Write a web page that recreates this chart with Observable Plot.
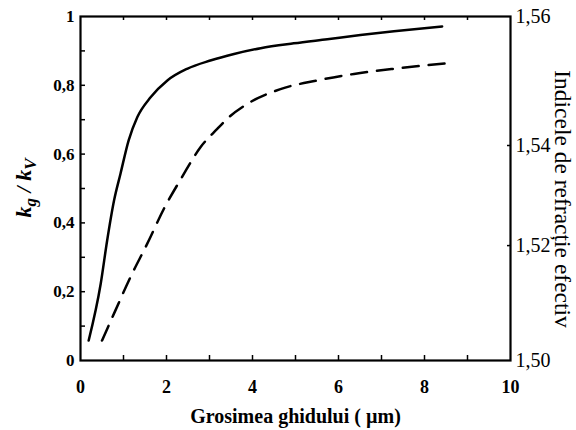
<!DOCTYPE html>
<html>
<head>
<meta charset="utf-8">
<script src="https://cdn.jsdelivr.net/npm/d3@7"></script>
<script src="https://cdn.jsdelivr.net/npm/@observablehq/plot@0.6"></script>
<style>
  html, body { margin: 0; padding: 0; background: #fff; }
  svg text { font-family: "Liberation Serif", "Times New Roman", Tinos, "DejaVu Serif", serif !important; }
</style>
</head>
<body>
<div id="chart"></div>
<script>
// Grosimea ghidului (µm) vs k_g/k_V — solid curve
const solidX = [0.19, 0.47, 0.62, 0.78, 0.93, 1.12, 1.32, 1.63, 2.02, 2.48, 3.02, 3.57, 4.19, 4.96, 5.74, 6.51, 7.29, 8.41];
const solidY = [0.058, 0.223, 0.349, 0.465, 0.543, 0.640, 0.707, 0.765, 0.814, 0.848, 0.872, 0.891, 0.908, 0.922, 0.934, 0.946, 0.957, 0.971];
// dashed curve (indicele de refracție efectiv)
const dashX = [0.50, 0.81, 1.16, 1.55, 1.94, 2.36, 2.79, 3.18, 3.45, 3.88, 4.65, 5.50, 6.36, 7.29, 8.53];
const dashY = [0.058, 0.145, 0.242, 0.339, 0.441, 0.533, 0.620, 0.673, 0.707, 0.746, 0.789, 0.814, 0.833, 0.848, 0.864];

const xTicks = [0, 2, 4, 6, 8, 10];
const xTickLabels = ["0", "2", "4", "6", "8", "10"];
const xMinorTicks = [1, 2, 3, 4, 5, 6, 7, 8, 9];
const yTicks = [0, 0.2, 0.4, 0.6, 0.8, 1];
const yTickLabels = ["0", "0,2", "0,4", "0,6", "0,8", "1"];
const yMinorTicks = [0.1, 0.2, 0.3, 0.4, 0.5, 0.6, 0.7, 0.8, 0.9];
// right axis: tick positions as read on the left scale, and their labels
const rightTicks = [0, 0.334, 0.625, 1];
const rightTickLabels = ["1,50", "1,52", "1,54", "1,56"];
const rightMinorTicks = [0.334, 0.625];

const xLabel = "Grosimea ghidului ( µm)";
const rightLabel = "Indicele de refracție efectiv";

const solid = solidX.map((x, i) => ({x, y: solidY[i]}));
const dashed = dashX.map((x, i) => ({x, y: dashY[i]}));

const W = 576, H = 430, mL = 80, mR = 66, mT = 16, mB = 70;
const fw = W - mL - mR, fh = H - mT - mB;
const serif = "'Liberation Serif', 'Times New Roman', Tinos, 'DejaVu Serif', serif";

const chart = Plot.plot({
  width: W, height: H,
  marginLeft: mL, marginRight: mR, marginTop: mT, marginBottom: mB,
  style: {fontFamily: serif, background: "#fff", color: "#000", overflow: "visible"},
  x: {domain: [0, 10]},
  y: {domain: [0, 1]},
  marks: [
    Plot.line(solid, {x: "x", y: "y", stroke: "#000", strokeWidth: 2.5, curve: "monotone-x"}),
    Plot.line(dashed, {x: "x", y: "y", stroke: "#000", strokeWidth: 2.5, curve: "monotone-x", strokeDasharray: "16,10"}),
    // inward ticks
    Plot.ruleX(xMinorTicks, {x: d => d, insetTop: fh - 5, stroke: "#000", strokeWidth: 1.5}),
    Plot.ruleX(xMinorTicks, {x: d => d, insetBottom: fh - 4, stroke: "#000", strokeWidth: 1.5}),
    Plot.ruleY(yMinorTicks, {y: d => d, insetRight: fw - 5, stroke: "#000", strokeWidth: 1.5}),
    Plot.ruleY(rightMinorTicks, {y: d => d, insetLeft: fw - 3, stroke: "#000", strokeWidth: 1.5}),
    Plot.frame({stroke: "#000", strokeWidth: 2.2}),
    Plot.axisX({ticks: xTicks, tickSize: 0, tickPadding: 20, label: null, fontSize: 18, fontWeight: "bold",
      tickFormat: d => xTickLabels[xTicks.indexOf(d)]}),
    Plot.axisY({ticks: yTicks, tickSize: 0, tickPadding: 6, label: null, fontSize: 17, fontWeight: "bold",
      tickFormat: d => yTickLabels[yTicks.indexOf(d)]}),
    Plot.axisY({anchor: "right", ticks: rightTicks, tickSize: 0, tickPadding: 5, label: null, fontSize: 20,
      tickFormat: d => rightTickLabels[rightTicks.indexOf(d)]}),
    Plot.text([xLabel], {text: d => d, frameAnchor: "bottom", dy: 56, fontSize: 20, fontWeight: "bold", lineAnchor: "middle"})
  ]
});

const svg = d3.select(chart);
// left axis title: k_g / k_V
const yl = svg.append("text")
  .attr("transform", `translate(31,${mT + fh / 2}) rotate(-90)`)
  .attr("text-anchor", "middle")
  .attr("font-size", 22)
  .attr("font-weight", "bold")
  .attr("font-style", "italic")
  .attr("fill", "#000");
yl.append("tspan").text("k");
yl.append("tspan").attr("dy", 5).attr("font-size", 17).text("g");
yl.append("tspan").attr("dy", -5).text(" / k");
yl.append("tspan").attr("dy", 5).attr("font-size", 17).text("V");

// right axis title
svg.append("text")
  .attr("transform", `translate(555,199) rotate(90)`)
  .attr("text-anchor", "middle")
  .attr("font-size", 23.5)
  .attr("fill", "#000")
  .text(rightLabel);

document.getElementById("chart").appendChild(chart);
</script>
</body>
</html>
